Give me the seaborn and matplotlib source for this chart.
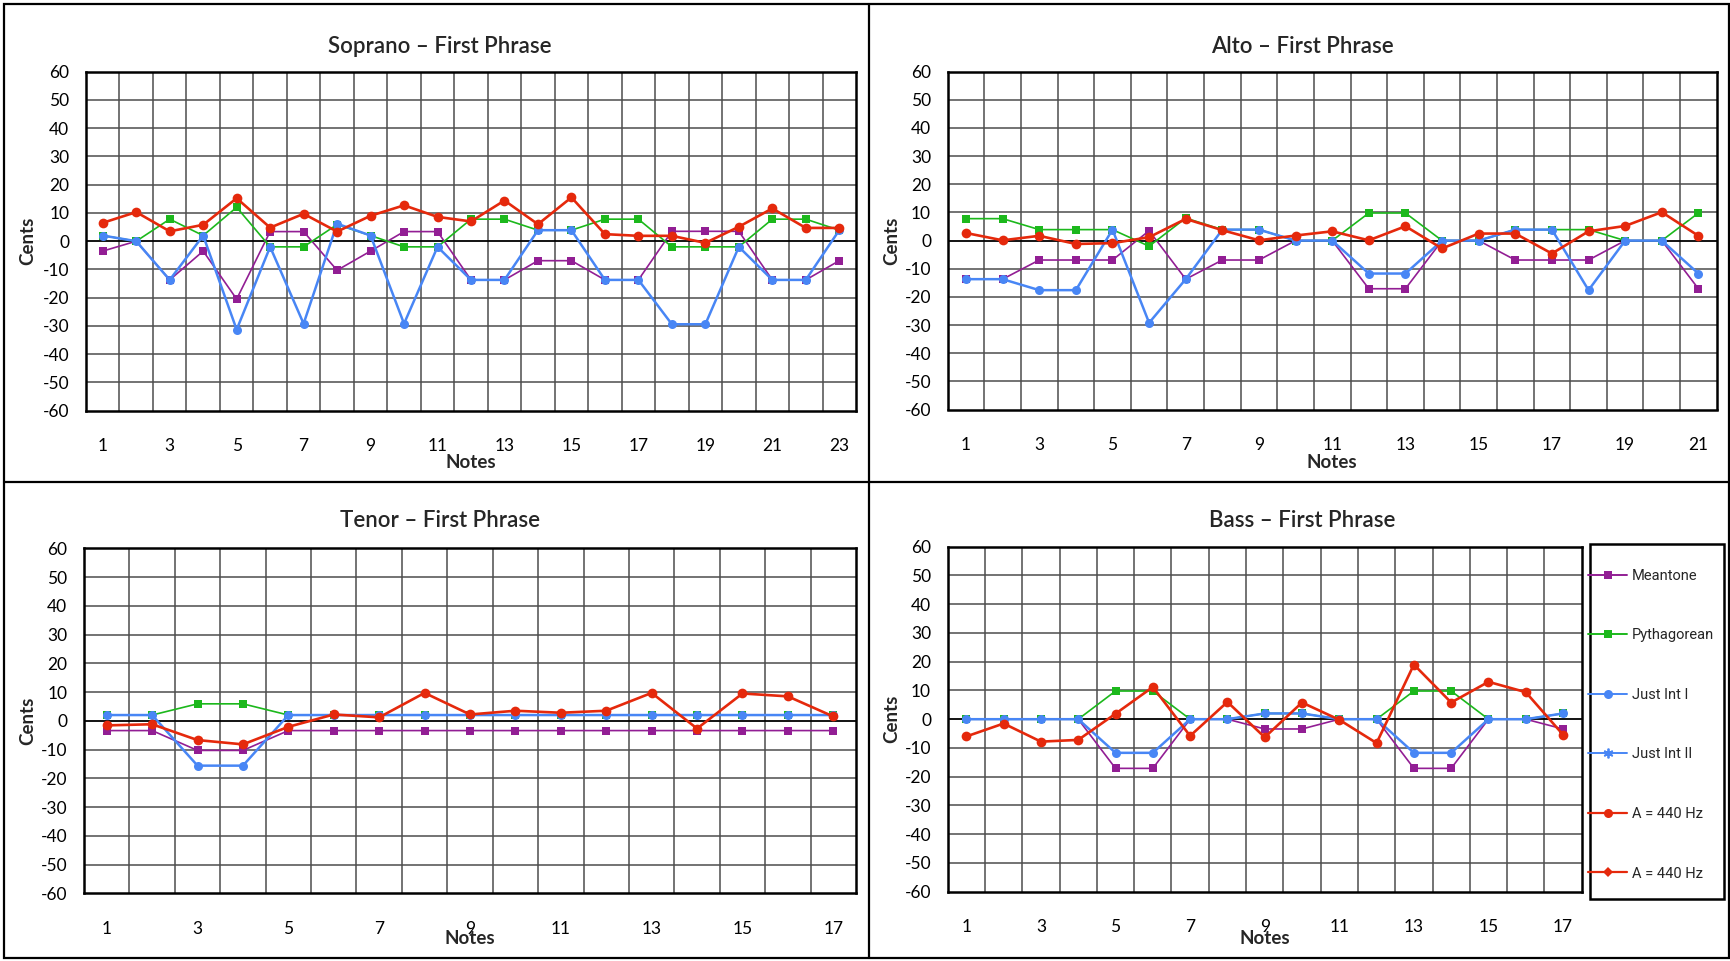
import matplotlib
matplotlib.use("Agg")
import matplotlib.pyplot as plt
from matplotlib.lines import Line2D
from matplotlib.patches import Rectangle
import seaborn as sns
import pandas as pd

# ---------------- data (cents deviation from equal temperament) ----------------
soprano_meantone = [-3.5, 0, -13.7, -3.5, -20.5, 3.4, 3.4, -10.3, -3.5, 3.4, 3.4, -13.7,
                    -13.7, -6.9, -6.9, -13.7, -13.7, 3.5, 3.5, 3.5, -13.7, -13.7, -6.9]
soprano_pythagorean = [2.0, 0, 7.8, 2.0, 12.0, -2.0, -2.0, 5.9, 2.0, -2.0, -2.0, 7.8,
                       7.8, 3.9, 3.9, 7.8, 7.8, -2.0, -2.0, -2.0, 7.8, 7.8, 3.9]
soprano_just = [2.0, 0, -13.7, 2.0, -31.3, -2.0, -29.2, 6.2, 2.0, -29.2, -2.0, -13.7,
                -13.7, 3.9, 3.9, -13.7, -13.7, -29.4, -29.4, -2.0, -13.7, -13.7, 3.9]
soprano_a440 = [6.5, 10.3, 3.5, 5.8, 15.2, 4.8, 9.7, 3.4, 9.0, 12.7, 8.6, 7.0,
                14.4, 6.0, 15.5, 2.5, 1.9, 1.9, -0.6, 5.1, 11.6, 4.7, 4.7]

alto_meantone = [-13.7, -13.7, -6.9, -6.9, -6.9, 3.5, -13.7, -6.9, -6.9, 0, 0,
                 -17.1, -17.1, 0, 0, -6.9, -6.9, -6.9, 0, 0, -17.1]
alto_pythagorean = [7.8, 7.8, 3.9, 3.9, 3.9, -2.0, 8.0, 3.9, 3.9, 0, 0,
                    9.8, 9.8, 0, 0, 3.9, 3.9, 3.9, 0, 0, 9.8]
alto_just = [-13.7, -13.7, -17.6, -17.6, 3.9, -29.2, -13.7, 3.9, 3.9, 0, 0,
             -11.7, -11.7, 0, 0, 3.9, 3.9, -17.6, 0, 0, -11.7]
alto_a440 = [2.7, 0.1, 1.7, -1.2, -0.9, 1.2, 7.7, 3.7, 0.1, 1.8, 3.3,
             0.1, 5.1, -2.8, 2.5, 2.5, -4.6, 3.3, 5.2, 10.1, 1.7]

tenor_meantone = [-3.4, -3.4, -10.3, -10.3, -3.4, -3.4, -3.4, -3.4, -3.4,
                  -3.4, -3.4, -3.4, -3.4, -3.4, -3.4, -3.4, -3.4]
tenor_pythagorean = [2.0, 2.0, 5.9, 5.9, 2.0, 2.0, 2.0, 2.0, 2.0,
                     2.0, 2.0, 2.0, 2.0, 2.0, 2.0, 2.0, 2.0]
tenor_just = [2.0, 2.0, -15.6, -15.6, 2.0, 2.0, 2.0, 2.0, 2.0,
              2.0, 2.0, 2.0, 2.0, 2.0, 2.0, 2.0, 2.0]
tenor_a440 = [-1.6, -1.2, -6.7, -8.2, -2.1, 2.2, 1.2, 9.7, 2.2,
              3.5, 2.8, 3.5, 9.7, -2.7, 9.5, 8.5, 1.5]

bass_meantone = [0, 0, 0, 0, -17.1, -17.1, 0, 0, -3.4,
                 -3.4, 0, 0, -17.1, -17.1, 0, 0, -3.4]
bass_pythagorean = [0, 0, 0, 0, 9.8, 9.8, 0, 0, 2.0,
                    2.0, 0, 0, 9.8, 9.8, 0, 0, 2.0]
bass_just = [0, 0, 0, 0, -11.7, -11.7, 0, 0, 2.0,
             2.0, 0, 0, -11.7, -11.7, 0, 0, 2.0]
bass_a440 = [-6.0, -1.5, -7.8, -7.2, 1.9, 11.2, -5.8, 6.0, -6.3,
             5.8, -0.2, -8.3, 19.0, 5.8, 13.0, 9.4, -5.4]

titles = ["Soprano \u2013 First Phrase", "Alto \u2013 First Phrase",
          "Tenor \u2013 First Phrase", "Bass \u2013 First Phrase"]
legend_labels = ["Meantone", "Pythagorean", "Just Int I", "Just Int II",
                 "A = 440 Hz", "A = 440 Hz"]
y_ticks = [-60, -50, -40, -30, -20, -10, 0, 10, 20, 30, 40, 50, 60]

# ---------------- styling ----------------
sns.set_style("white")
plt.rcParams["font.family"] = ["Lato", "DejaVu Sans"]

PURPLE = "#921E94"
GREEN = "#1CB81C"
BLUE = "#4886F5"
RED = "#E5290C"

W, H = 1731, 961
fig = plt.figure(figsize=(W / 100, H / 100), dpi=100)
fig.patch.set_facecolor("white")


def fx(px):
    return px / W


def fy(py):
    return 1 - py / H


def make_axes(left, top, right, bottom):
    return fig.add_axes([fx(left), fy(bottom), fx(right - left), (bottom - top) / H])


panels = [
    (make_axes(86, 71.7, 856, 410.7),
     [soprano_meantone, soprano_pythagorean, soprano_just, soprano_a440]),
    (make_axes(947.7, 71.7, 1716.7, 409.5),
     [alto_meantone, alto_pythagorean, alto_just, alto_a440]),
    (make_axes(84, 548.3, 856, 893.3),
     [tenor_meantone, tenor_pythagorean, tenor_just, tenor_a440]),
    (make_axes(947.7, 546.7, 1581.7, 891.7),
     [bass_meantone, bass_pythagorean, bass_just, bass_a440]),
]

series_style = [
    dict(color=PURPLE, marker="s", markersize=5.8, linewidth=1.2),
    dict(color=GREEN, marker="s", markersize=5.8, linewidth=1.2),
    dict(color=BLUE, marker="o", markersize=6.5, linewidth=1.8),
    dict(color=RED, marker="o", markersize=7.0, linewidth=1.9),
]

for ax, series in panels:
    n = len(series[0])
    notes = list(range(1, n + 1))
    for vals, st in zip(series, series_style):
        df = pd.DataFrame({"Notes": notes, "Cents": vals})
        sns.lineplot(data=df, x="Notes", y="Cents", ax=ax, color=st["color"],
                     marker=st["marker"], markersize=st["markersize"],
                     linewidth=st["linewidth"], markeredgewidth=0, zorder=3)
    ax.set_xlim(0.5, n + 0.5)
    ax.set_ylim(-60, 60)
    # grid: horizontal every 10 cents, vertical between notes
    for yv in y_ticks[1:-1]:
        if yv == 0:
            ax.axhline(0, color="black", linewidth=1.3, zorder=2)
        else:
            ax.axhline(yv, color="#4d4d4d", linewidth=1.1, zorder=1)
    for k in range(1, n):
        ax.axvline(k + 0.5, color="#4d4d4d", linewidth=1.1, zorder=1)
    ax.set_yticks(y_ticks)
    ax.set_yticklabels([str(v) for v in y_ticks])
    ax.set_xticks(notes[::2])
    ax.set_xticklabels([str(v) for v in notes[::2]])
    ax.tick_params(axis="both", length=0, labelsize=12.5, colors="black")
    ax.tick_params(axis="y", pad=12)
    ax.tick_params(axis="x", pad=20)
    ax.set_xlabel("")
    ax.set_ylabel("")
    for sp in ax.spines.values():
        sp.set_visible(True)
        sp.set_color("black")
        sp.set_linewidth(1.8)
    ax.set_facecolor("white")

# panel titles
fig.text(fx(440), fy(53), titles[0], ha="center", va="baseline", fontsize=16, fontweight="semibold")
fig.text(fx(1302), fy(53), titles[1], ha="center", va="baseline", fontsize=16, fontweight="semibold")
fig.text(fx(440), fy(527), titles[2], ha="center", va="baseline", fontsize=16, fontweight="semibold")
fig.text(fx(1302), fy(527), titles[3], ha="center", va="baseline", fontsize=16, fontweight="semibold")

# axis labels
for (xc, yc) in [(471, 463), (1332, 463), (470, 939), (1265, 939)]:
    fig.text(fx(xc), fy(yc), "Notes", ha="center", va="center", fontsize=13.5, fontweight="bold")
for (xc, yc) in [(28, 241), (892, 241), (28, 721), (892, 719)]:
    fig.text(fx(xc), fy(yc), "Cents", ha="center", va="center", rotation=90,
             fontsize=13.5, fontweight="bold")

# frame lines separating the four panels
line_kw = dict(color="black", linewidth=1.6, transform=fig.transFigure)
fig.add_artist(Rectangle((fx(4), fy(958)), fx(1729 - 4), (958 - 4) / H, fill=False,
                         edgecolor="black", linewidth=1.6, transform=fig.transFigure))
fig.add_artist(Line2D([fx(869), fx(869)], [fy(4), fy(958)], **line_kw))
fig.add_artist(Line2D([fx(4), fx(1729)], [fy(481.7), fy(481.7)], **line_kw))

# legend box beside the bass chart
fig.add_artist(Rectangle((fx(1590), fy(899)), fx(1724 - 1590), (899 - 544) / H, fill=False,
                         edgecolor="black", linewidth=1.8, transform=fig.transFigure))
handles = [
    Line2D([], [], color=PURPLE, marker="s", markersize=6, linewidth=1.4, markeredgewidth=0),
    Line2D([], [], color=GREEN, marker="s", markersize=6, linewidth=1.4, markeredgewidth=0),
    Line2D([], [], color=BLUE, marker="o", markersize=6.5, linewidth=1.4, markeredgewidth=0),
    Line2D([], [], color=BLUE, marker=(6, 2, 0), markersize=7, linewidth=1.4, markeredgewidth=1.3),
    Line2D([], [], color=RED, marker="o", markersize=6.5, linewidth=1.6, markeredgewidth=0),
    Line2D([], [], color=RED, marker="D", markersize=5, linewidth=1.6, markeredgewidth=0),
]
leg = fig.legend(handles, legend_labels, loc="upper left",
                 bbox_to_anchor=(fx(1588), fy(569)), frameon=False,
                 prop={"family": "Roboto", "size": 10.5}, labelspacing=3.12,
                 handlelength=2.7, handletextpad=0.3, borderpad=0, borderaxespad=0)

fig.savefig("out.png", dpi=100, facecolor="white")
